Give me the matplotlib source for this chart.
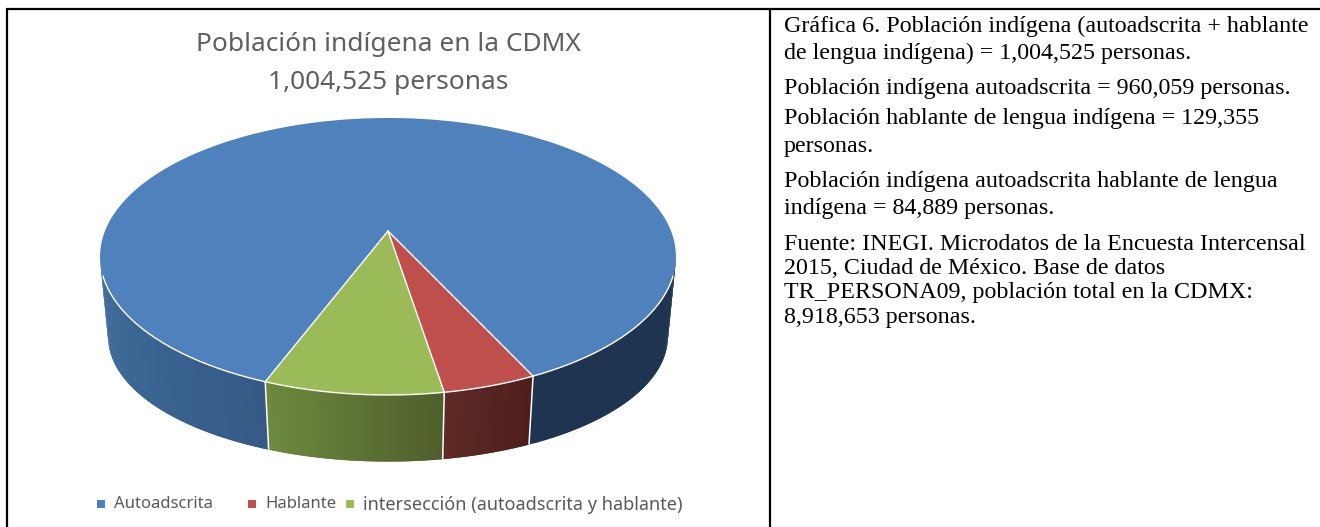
import numpy as np
import matplotlib
matplotlib.use("Agg")
import matplotlib.pyplot as plt

# datos del grafico
categorias = ["Autoadscrita", "Hablante", "intersección (autoadscrita y hablante)"]
valores = [875170, 44466, 84889]
colores = ["#4F81BD", "#C0504D", "#9BBB59"]

titulo = ["Población indígena en la CDMX", "1,004,525 personas"]

notas = [
    "Gráfica 6. Población indígena (autoadscrita + hablante",
    "de lengua indígena) = 1,004,525 personas.",
    "Población indígena autoadscrita = 960,059 personas.",
    "Población hablante de lengua indígena = 129,355",
    "personas.",
    "Población indígena autoadscrita hablante de lengua",
    "indígena = 84,889 personas.",
    "Fuente: INEGI. Microdatos de la Encuesta Intercensal",
    "2015, Ciudad de México. Base de datos",
    "TR_PERSONA09, población total en la CDMX:",
    "8,918,653 personas.",
]
notas_y = [32, 59, 94, 124, 152, 187, 214, 250, 274, 298, 323]

# pastel en perspectiva
cx, cy = 388, 231
rx, ry, k = 283, 133.8, 0.184
inicio = np.radians(25.3)


def tapa(theta):
    w = 1 - k * np.cos(theta)
    return cx + rx * np.sin(theta) / w, cy + ry * np.cos(theta) / w


def base(theta):
    x, y = tapa(theta)
    return cx + 0.972 * (x - cx), cy + 0.9 * (y - cy) + 83


def mezcla(c1, c2, t):
    return tuple(np.array(c1) + (np.array(c2) - np.array(c1)) * t)


def rgb(h):
    return matplotlib.colors.to_rgb(h)


fig = plt.figure(figsize=(13.2, 5.27), dpi=100)
ax = fig.add_axes([0, 0, 1, 1])
ax.set_xlim(0, 1320)
ax.set_ylim(527, 0)
ax.axis("off")

# limites de cada rebanada, en sentido horario desde el frente derecho
fracciones = np.array(valores) / sum(valores)
hab_fin = inicio - 2 * np.pi * fracciones[1]
int_fin = hab_fin - 2 * np.pi * fracciones[2]
limites = {
    0: (int_fin, inicio - 2 * np.pi),
    1: (inicio, hab_fin),
    2: (hab_fin, int_fin),
}

# paredes, cada tira pisa a la siguiente para que no se vean costuras
sil = np.arccos(k)
paredes = [
    (-sil, int_fin, "#41709F", "#355A86"),
    (hab_fin, inicio, "#5E2B26", "#4E1E1B"),
    (int_fin, hab_fin, "#6E8A3E", "#4F5F2C"),
    (inicio, sil, "#1F3450", "#1F3450"),
]
for a, b, c1, c2 in paredes:
    ts = np.linspace(a, b, 61)
    for i in range(60):
        t = np.linspace(ts[i], ts[-1] if i > 57 else ts[i + 2], 4)
        xs1, ys1 = tapa(t)
        xs2, ys2 = base(t)
        col = mezcla(rgb(c1), rgb(c2), i / 59)
        ax.fill(np.r_[xs1, xs2[::-1]], np.r_[ys1, ys2[::-1]], color=col, lw=0)

# lineas blancas de separacion en la pared
for th in [inicio, hab_fin, int_fin]:
    x1, y1 = tapa(th)
    x2, y2 = base(th)
    ax.plot([x1, x2], [y1, y2], color="white", lw=1.1, solid_capstyle="butt")

# tapa
for i in [0, 1, 2]:
    a, b = limites[i]
    t = np.linspace(a, b, 300)
    xs, ys = tapa(t)
    ax.fill(np.r_[cx, xs], np.r_[cy, ys], color=colores[i], lw=0)

# radios y borde frontal en blanco
for th in [inicio, hab_fin, int_fin]:
    x1, y1 = tapa(th)
    ax.plot([cx, x1], [cy, y1], color="white", lw=1.0)
t = np.linspace(-sil * 0.9, sil * 0.9, 300)
xs, ys = tapa(t)
ax.plot(xs, ys, color="white", lw=1.0)

# titulo
ax.text(388.5, 44.5, titulo[0], fontsize=18.95, family="Noto Sans", color="#5F5F5F", ha="center", va="center")
ax.text(388.5, 82.5, titulo[1], fontsize=18.95, family="Noto Sans", color="#5F5F5F", ha="center", va="center")

# leyenda
leyenda_x = [101, 252, 350]
leyenda_tam = [12, 12, 13]
for x, c, nombre, tam in zip(leyenda_x, colores, categorias, leyenda_tam):
    ax.scatter([x], [504], marker="s", s=38, color=c, linewidths=0)
    ax.text(x + 13, 504.5, nombre, fontsize=tam, family="Noto Sans", color="#595959", va="center")

# notas de la derecha
for y, linea in zip(notas_y, notas):
    ax.text(784, y, linea, fontsize=17.3, family="Liberation Serif", color="black", va="baseline")

# marco de la tabla
ax.plot([7, 7], [527, 9], color="black", lw=1.6, solid_capstyle="butt")
ax.plot([6, 1320], [9, 9], color="black", lw=1.6, solid_capstyle="butt")
ax.plot([769.5, 769.5], [9, 527], color="black", lw=1.6, solid_capstyle="butt")

plt.savefig("out.png", dpi=100)
